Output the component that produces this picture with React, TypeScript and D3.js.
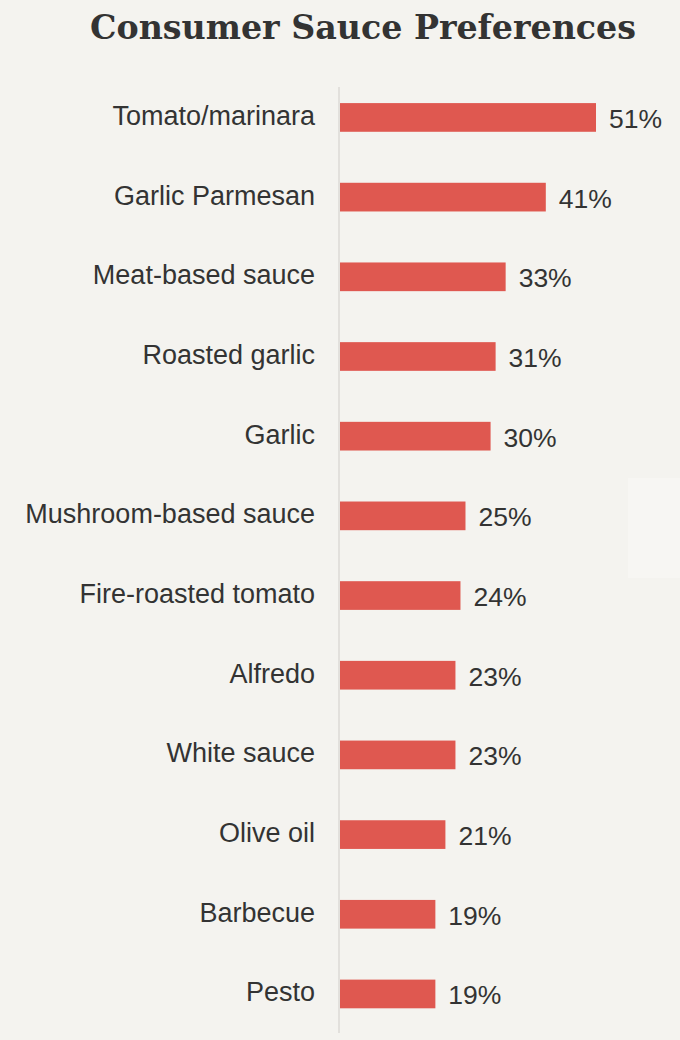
import * as d3 from 'd3';
import { useEffect, useRef } from 'react';

const categories = [
  'Tomato/marinara',
  'Garlic Parmesan',
  'Meat-based sauce',
  'Roasted garlic',
  'Garlic',
  'Mushroom-based sauce',
  'Fire-roasted tomato',
  'Alfredo',
  'White sauce',
  'Olive oil',
  'Barbecue',
  'Pesto',
];

const shares = [51, 41, 33, 31, 30, 25, 24, 23, 23, 21, 19, 19];

const title = 'Consumer Sauce Preferences';

const width = 680;
const height = 1040;
const bg = '#f4f3ef';
const barColor = '#df5850';
const textColor = '#333333';

const SauceChart = () => {
  const ref = useRef<SVGSVGElement | null>(null);

  useEffect(() => {
    if (!ref.current) return;
    const svg = d3.select(ref.current);
    svg.selectAll('*').remove();

    const data = categories.map((c, i) => ({ label: c, value: shares[i] }));

    const yScale = d3
      .scaleBand()
      .domain(categories)
      .range([77.6, 1033.8])
      .paddingInner(0.64)
      .paddingOuter(0.32);

    const xScale = d3
      .scaleLinear()
      .domain([0, d3.max(shares)!])
      .range([340, 596]);

    svg
      .append('rect')
      .attr('width', width)
      .attr('height', height)
      .attr('fill', bg);

    // faint panel on the right edge
    svg
      .append('rect')
      .attr('x', 628)
      .attr('y', 478)
      .attr('width', 52)
      .attr('height', 100)
      .attr('fill', '#f7f6f3');

    svg
      .append('text')
      .attr('x', 363)
      .attr('y', 39)
      .attr('text-anchor', 'middle')
      .attr('font-family', 'DejaVu Serif, serif')
      .attr('font-weight', 700)
      .attr('font-size', 34)
      .attr('textLength', 546)
      .attr('lengthAdjust', 'spacingAndGlyphs')
      .attr('fill', textColor)
      .text(title);

    // axis line
    svg
      .append('line')
      .attr('x1', xScale(0) - 1)
      .attr('x2', xScale(0) - 1)
      .attr('y1', 87)
      .attr('y2', 1033)
      .attr('stroke', '#dcdad6')
      .attr('stroke-width', 1.5);

    const rows = svg
      .append('g')
      .selectAll('g')
      .data(data)
      .join('g')
      .attr('transform', (d) => `translate(0,${yScale(d.label)!})`);

    rows
      .append('rect')
      .attr('x', xScale(0))
      .attr('y', 0)
      .attr('width', (d) => xScale(d.value) - xScale(0))
      .attr('height', yScale.bandwidth())
      .attr('fill', barColor);

    const mid = yScale.bandwidth() / 2;

    rows
      .append('text')
      .attr('x', 315)
      .attr('y', mid + 7.5)
      .attr('text-anchor', 'end')
      .attr('font-family', 'Liberation Sans, Arial, sans-serif')
      .attr('font-size', 27)
      .attr('fill', textColor)
      .text((d) => d.label);

    rows
      .append('text')
      .attr('x', (d) => xScale(d.value) + 13)
      .attr('y', mid + 10.5)
      .attr('font-family', 'Liberation Sans, Arial, sans-serif')
      .attr('font-size', 26.5)
      .attr('fill', textColor)
      .text((d) => `${d.value}%`);
  }, []);

  return (
    <svg
      ref={ref}
      width={width}
      height={height}
      style={{ position: 'absolute', left: 0, top: 0, display: 'block' }}
    />
  );
};

export default function App() {
  return <SauceChart />;
}
